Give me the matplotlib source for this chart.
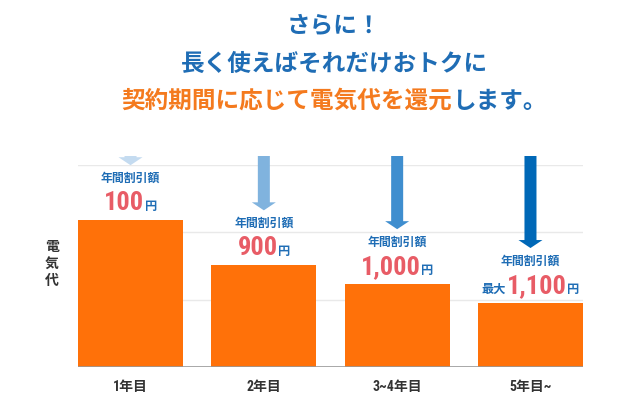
import matplotlib
matplotlib.use("Agg")
import matplotlib.pyplot as plt

plt.rcParams['font.family'] = ['Noto Sans CJK JP', 'DejaVu Sans']

# データ
periods = ["1年目", "2年目", "3~4年目", "5年目~"]
cost_level = [2.18, 1.51, 1.23, 0.95]      # 電気代 (相対値)
discount_yen = ["100", "900", "1,000", "1,100"]
discount_prefix = ["", "", "", "最大"]
arrow_colors = ["#c4dbf0", "#80b3de", "#3f8ecf", "#0068b7"]

ORANGE = "#ff7109"
BLUE = "#1f6db5"
RED = "#e85c66"
DARK = "#333333"
NUM_FONT = ['Roboto Condensed', 'Noto Sans CJK JP']

fig = plt.figure(figsize=(6.32, 4.06), dpi=100)
ax = fig.add_axes([78 / 632, 38 / 406, 505 / 632, 202 / 406])
renderer = fig.canvas.get_renderer()

x = list(range(len(periods)))
ax.bar(x, cost_level, width=0.788, color=ORANGE, zorder=2)
ax.set_xlim(-0.394, 3.394)
ax.set_ylim(0, 3)

# グリッド
for g in [1, 2, 3]:
    ax.axhline(g, color="#e9e9e9", lw=1, zorder=1)
ax.axhline(0, color="#999999", lw=1.2, zorder=3)
for s in ax.spines.values():
    s.set_visible(False)
ax.set_yticks([])
ax.set_xticks(x)
ax.set_xticklabels(periods, fontsize=10, fontweight='bold', color=DARK, family=NUM_FONT)
ax.tick_params(axis='x', length=0, pad=9)

# 縦書きラベル
fig.text(52 / 632, 1 - 264 / 406, "電\n気\n代", ha='center', va='center',
         fontsize=10, fontweight='bold', color=DARK, linespacing=1.25)

px_per_unit = 202 / 3
arrow_top = 3 + 9 / px_per_unit
for i, h in enumerate(cost_level):
    # 矢印
    tip = h + 55 / px_per_unit
    head = 8 / px_per_unit
    hw, sw = 12 / 133.2, 6 / 133.2
    base = tip + head
    top = max(arrow_top, base)
    xs = [i - sw, i - sw, i - hw, i, i + hw, i + sw, i + sw]
    ys = [top, base, base, tip, base, base, top]
    ax.fill(xs, ys, color=arrow_colors[i], lw=0, clip_on=False, zorder=4)

    # 年間割引額
    ax.annotate("年間割引額", (i, h), xytext=(0, 43), textcoords='offset pixels',
                ha='center', va='center', fontsize=8.6, fontweight='bold', color=BLUE)

    # 金額 (部品ごとに並べる)
    parts = []
    if discount_prefix[i]:
        parts.append((discount_prefix[i], dict(fontsize=8.8, color=BLUE, family=['Noto Sans CJK JP'])))
    parts.append((discount_yen[i], dict(fontsize=19, color=RED, family=NUM_FONT)))
    parts.append(("円", dict(fontsize=8.8, color=BLUE, family=['Noto Sans CJK JP'])))
    widths = []
    for t, kw in parts:
        tt = fig.text(0, 0, t, fontweight='bold', **kw)
        widths.append(tt.get_window_extent(renderer).width)
        tt.remove()
    gap = 0.5
    total = sum(widths) + gap * (len(widths) - 1)
    cur = -total / 2
    for (t, kw), w in zip(parts, widths):
        ax.annotate(t, (i, h), xytext=(cur, 11), textcoords='offset pixels',
                    ha='left', va='baseline', fontweight='bold', **kw)
        cur += w + gap

# タイトル
cx = 334 / 632
fig.text(cx, 1 - 26 / 406, "さらに！", ha='center', va='center',
         fontsize=17, fontweight='bold', color=BLUE)
fig.text(cx, 1 - 64 / 406, "長く使えばそれだけおトクに", ha='center', va='center',
         fontsize=17, fontweight='bold', color=BLUE)
t1 = fig.text(0, 0, "契約期間に応じて電気代を還元", fontsize=17, fontweight='bold')
t2 = fig.text(0, 0, "します。", fontsize=17, fontweight='bold')
w1 = t1.get_window_extent(renderer).width
w2 = t2.get_window_extent(renderer).width
t1.remove()
t2.remove()
split = 334 - (w1 + w2) / 2 + w1
fig.text(split / 632, 1 - 101 / 406, "契約期間に応じて電気代を還元", ha='right', va='center',
         fontsize=17, fontweight='bold', color="#f47a1e")
fig.text(split / 632, 1 - 101 / 406, "します。", ha='left', va='center',
         fontsize=17, fontweight='bold', color=BLUE)

fig.savefig("out.png", dpi=100)
